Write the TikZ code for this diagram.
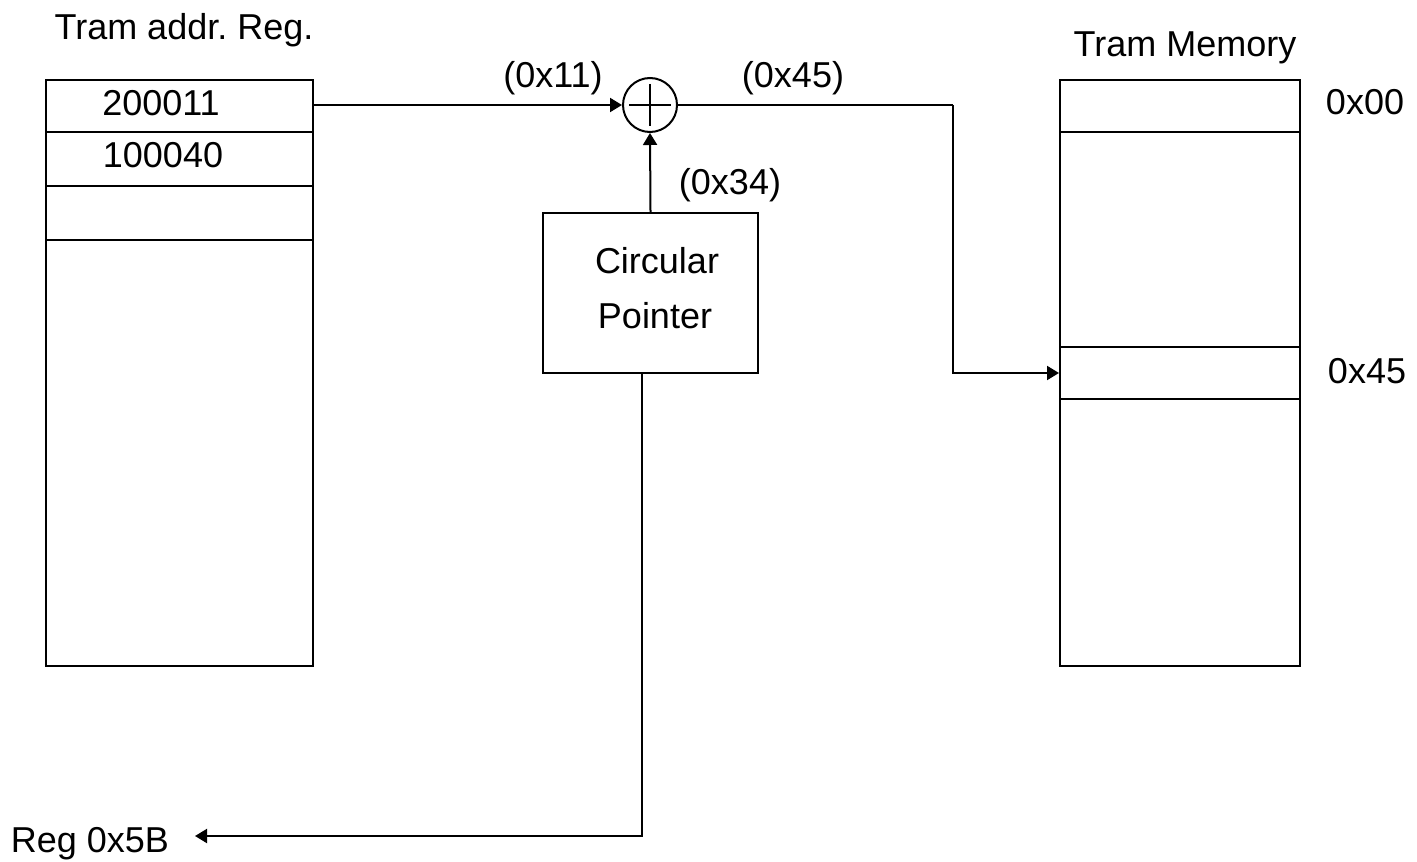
\documentclass[tikz,border=0pt]{standalone}
\usepackage{fontspec}
\setmainfont{Liberation Sans}
\usetikzlibrary{arrows.meta}
\frenchspacing
\begin{document}
\begin{tikzpicture}[x=0.5pt,y=-0.5pt,
  every node/.style={font=\fontsize{18pt}{22pt}\selectfont},
  line/.style={line width=1pt},
  arr/.style={line width=1pt,-{Triangle[length=6pt,width=7pt]}},
  box/.style={draw,line width=1pt,inner sep=0pt,rectangle},
  txt/.style={anchor=base,inner sep=0pt}
]
\useasboundingbox (0,0) rectangle (1417,861);
% left register
\node[box,minimum width=133.5pt,minimum height=293pt] (reg) at (179.5,373) {};
\node[box,minimum width=133.5pt,minimum height=26pt] (r1) at (179.5,106) {};
\node[box,minimum width=133.5pt,minimum height=27pt] (r2) at (179.5,159) {};
\node[box,minimum width=133.5pt,minimum height=27pt] (r3) at (179.5,213) {};
\node[txt] (regtitle) at (184,40) {Tram addr.\ Reg.};
\node[txt] (v1) at (161,116) {200011};
\node[txt] (v2) at (163,168) {100040};
% adder
\node[draw,circle,line width=1pt,minimum size=27pt,inner sep=0pt] (add) at (650,105) {};
\draw[line] ([xshift=-10.5pt]add.center) -- ([xshift=10.5pt]add.center);
\draw[line] ([yshift=10.5pt]add.center) -- ([yshift=-10.5pt]add.center);
% pointer
\node[box,minimum width=107.5pt,minimum height=80pt] (ptr) at (650.5,293) {};
\node[txt] (c1) at (657,273) {Circular};
\node[txt] (c2) at (655,328) {Pointer};
% memory
\node[box,minimum width=120pt,minimum height=293pt] (mem) at (1180,373) {};
\node[box,minimum width=120pt,minimum height=26pt] (m1) at (1180,106) {};
\node[box,minimum width=120pt,minimum height=26pt] (m2) at (1180,373) {};
\node[txt] (memtitle) at (1185,57) {Tram Memory};
\node[txt] (a0) at (1365,115) {0x00};
\node[txt] (a45) at (1367,383) {0x45};
% labels
\node[txt] (l11) at (553,88) {(0x11)};
\node[txt] (l45) at (793,88) {(0x45)};
\node[txt] (l34) at (730,195) {(0x34)};
\node[txt] (out) at (90,852) {Reg 0x5B};
% connectors
\coordinate (bend) at (953,105);
\coordinate (pb) at (642,373);
\coordinate (outtip) at (195,836);
\draw[arr] (r1.east |- add.west) -- (add.west);
\draw[arr] (ptr.north) -- (add.south);
\draw[line] (add.east) -- (bend);
\draw[arr] (bend) |- (m2.west);
\draw[arr] (pb) |- (outtip);
\end{tikzpicture}
\end{document}
